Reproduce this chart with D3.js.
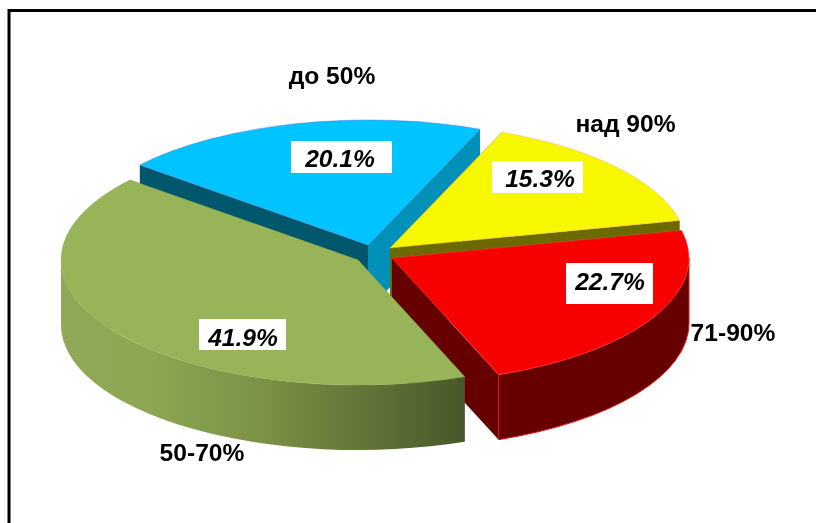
<!DOCTYPE html>
<html><head><meta charset="utf-8">
<script src="https://cdn.jsdelivr.net/npm/d3@7"></script>
<style>html,body{margin:0;padding:0;background:#fff}svg{display:block}</style>
</head><body><svg id="c" width="816" height="523"></svg>
<script>
const categories = ["до 50%", "над 90%", "71-90%", "50-70%"];
const values = [20.1, 15.3, 22.7, 41.9];
const valueLabels = ["20.1%", "15.3%", "22.7%", "41.9%"];
const topColors = ["#00c4ff", "#f7f700", "#f80000", "#97b558"];
const rimColors = ["#4a7fe0", "#f0b070", "#ff5050", "#97b558"];
const startWallColors = ["#00566b", "#6b6b00", "#660000", "#47572a"];
const endWallColors = ["#0090b8", "#6b6b00", "#660000", "#47572a"];
const outerWallColors = ["#0090b8", "#6b6b00", "#660000", "url(#greenWall)"];
// slice centres after explosion
const sliceCx = [368, 390, 392, 358];
const sliceCy = [245, 248, 258, 260];
// label placements
const nameX = [332, 625.5, 733, 202];
const nameY = [84, 132, 341, 461];
const boxX = [291, 492, 566, 199];
const boxY = [141, 161, 263, 319];
const boxW = [101, 91, 87, 87];
const boxH = [32, 32, 41, 31];
const valueX = [340, 540, 610, 243];
const valueY = [167, 187, 290, 346];

const RX = 297, RY = 125, DEPTH = 65;
const svg = d3.select("#c");
const FONT = "'Liberation Sans', Arial, sans-serif";

const defs = svg.append("defs");
const g = defs.append("linearGradient").attr("id", "greenWall")
  .attr("gradientUnits", "userSpaceOnUse").attr("x1", 60).attr("x2", 465).attr("y1", 0).attr("y2", 0);
[[0, "#8fa956"], [0.22, "#8ca652"], [0.5, "#7a9246"], [0.75, "#627538"], [1, "#47582a"]]
  .forEach(s => g.append("stop").attr("offset", s[0]).attr("stop-color", s[1]));
defs.append("filter").attr("id", "soft").attr("x", "-5%").attr("y", "-5%").attr("width", "110%").attr("height", "110%")
  .append("feGaussianBlur").attr("stdDeviation", 0.45);

// frame
svg.append("path").attr("d", "M9,523V10.5H816").attr("fill", "none").attr("stroke", "#000").attr("stroke-width", 3);

const pie = d3.pie().sort(null).value(d => d)
  .startAngle(-50.2 * Math.PI / 180).endAngle((360 - 50.2) * Math.PI / 180);
const arcs = pie(values);
const arcGen = d3.arc().innerRadius(0).outerRadius(RX);
const pt = (i, a, dz) => [sliceCx[i] + RX * Math.sin(a), sliceCy[i] - RY * Math.cos(a) + (dz || 0)];
const HALF = Math.PI / 2, THREE_HALF = 3 * Math.PI / 2;
const chart = svg.append("g").attr("filter", "url(#soft)");

arcs.forEach((d, i) => {
  const gS = chart.append("g").attr("class", "slice");
  // radial cut faces
  [[d.startAngle, startWallColors[i]], [d.endAngle, endWallColors[i]]].forEach(([a, col]) => {
    const p = pt(i, a), c = [sliceCx[i], sliceCy[i]];
    gS.append("path")
      .attr("d", d3.line()([c, p, [p[0], p[1] + DEPTH], [c[0], c[1] + DEPTH]]) + "Z")
      .attr("fill", col);
  });
  // outer curved wall (front half only)
  const a0 = Math.max(d.startAngle, HALF), a1 = Math.min(d.endAngle, THREE_HALF);
  if (a1 > a0) {
    const p0 = pt(i, a0), p1 = pt(i, a1);
    gS.append("path")
      .attr("d", `M${p0}A${RX},${RY} 0 0 1 ${p1}L${p1[0]},${p1[1] + DEPTH}A${RX},${RY} 0 0 0 ${p0[0]},${p0[1] + DEPTH}Z`)
      .attr("fill", outerWallColors[i])
      .attr("stroke", i === 2 ? "#e01010" : "none").attr("stroke-width", 1);
  }
  // top
  gS.append("path")
    .attr("transform", `translate(${sliceCx[i]},${sliceCy[i]}) scale(1,${RY / RX})`)
    .attr("d", arcGen(d)).attr("fill", topColors[i])
    .attr("stroke", rimColors[i]).attr("stroke-width", 0.7);
});

const labels = svg.append("g").attr("filter", "url(#soft)");
// value labels
valueLabels.forEach((t, i) => {
  labels.append("rect").attr("x", boxX[i]).attr("y", boxY[i]).attr("width", boxW[i]).attr("height", boxH[i]).attr("fill", "#fff");
  labels.append("text").attr("x", valueX[i]).attr("y", valueY[i])
    .attr("text-anchor", "middle").attr("font-family", FONT).attr("font-size", 24.6)
    .attr("font-style", "italic").attr("font-weight", "bold").attr("fill", "#000").text(t);
});
// category labels
categories.forEach((t, i) => {
  labels.append("text").attr("x", nameX[i]).attr("y", nameY[i])
    .attr("text-anchor", "middle").attr("font-family", FONT).attr("font-size", 24.6)
    .attr("font-weight", "bold").attr("fill", "#000").text(t);
});
</script></body></html>
